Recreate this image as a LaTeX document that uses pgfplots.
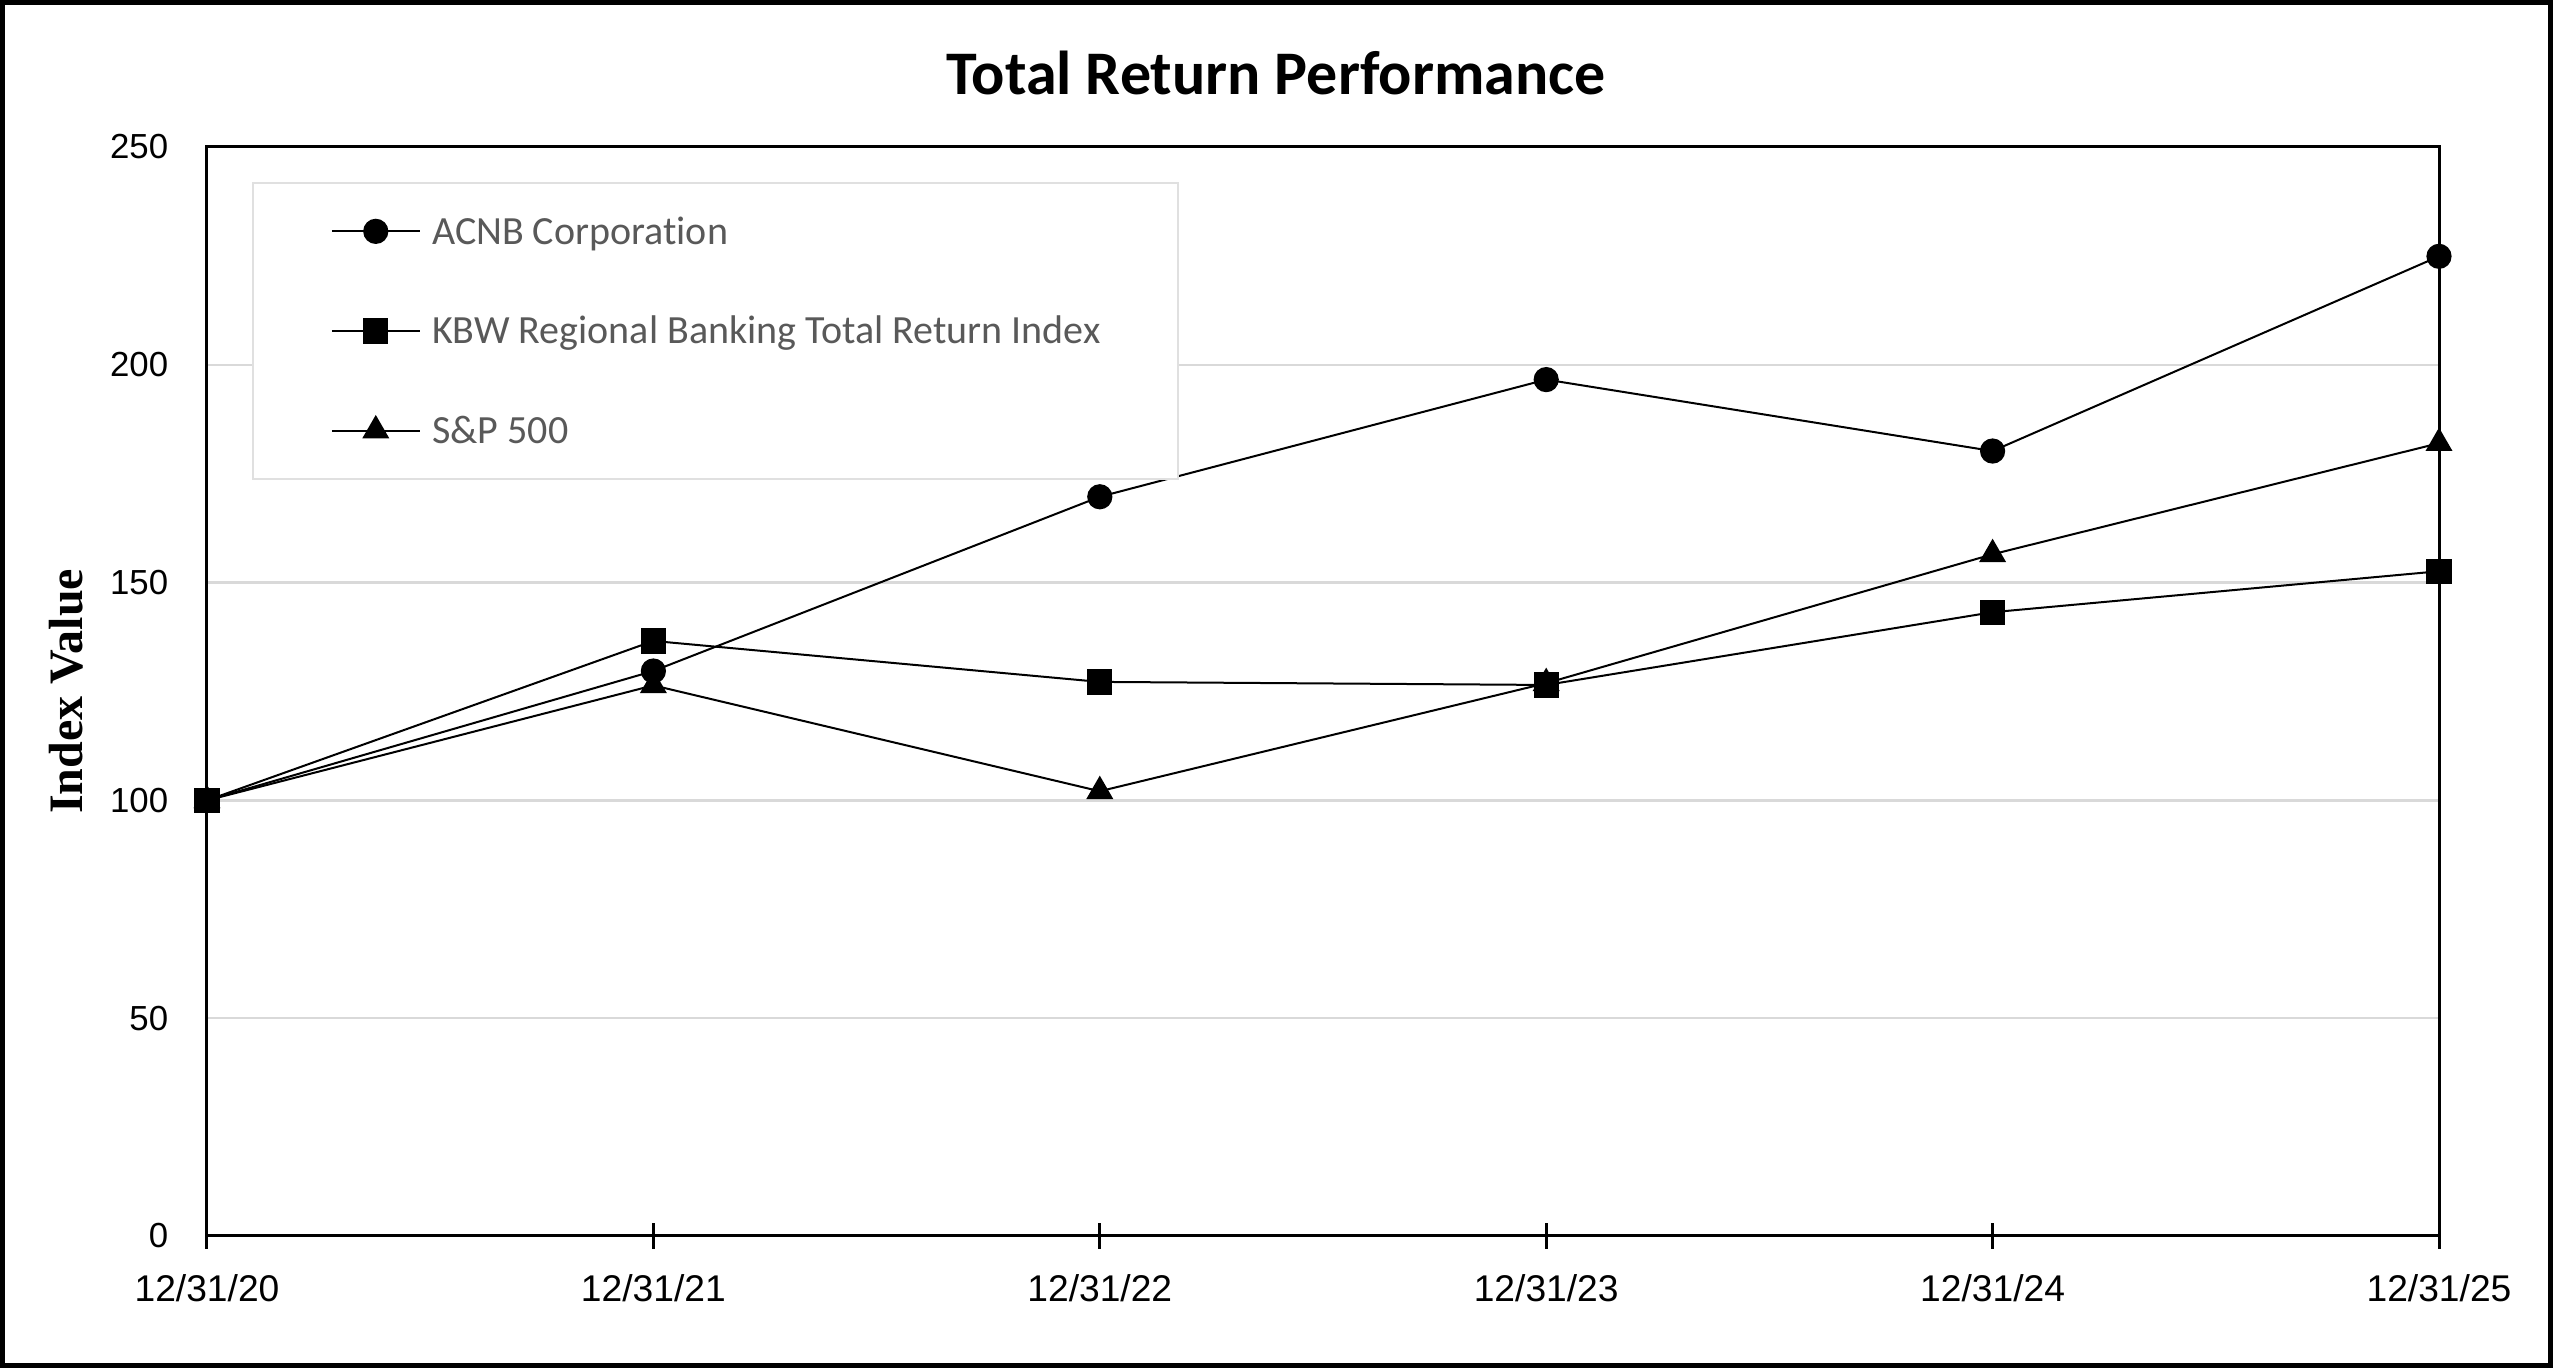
\documentclass[border=0pt]{standalone}
\usepackage{pgfplots}
\pgfplotsset{compat=1.18}
\usepackage{fontspec}
\setmainfont{Liberation Sans}
\newfontfamily\carlito[Ligatures={NoCommon}]{Carlito}
\newfontfamily\timesf{Liberation Serif}
\definecolor{gridgray}{HTML}{D9D9D9}
\definecolor{leggray}{HTML}{595959}
\definecolor{legborder}{HTML}{E0E0E0}
\begin{document}
\begin{tikzpicture}
\begin{axis}[
  scale only axis, width=558pt, height=272.25pt,
  xmin=0, xmax=5, ymin=0, ymax=250,
  clip=false,
  xtick={0,1,2,3,4,5},
  xticklabels={12/31/20,12/31/21,12/31/22,12/31/23,12/31/24,12/31/25},
  ytick={0,50,100,150,200,250},
  ymajorgrids, grid style={gridgray, line width=0.6pt},
  axis line style={line width=0.75pt, black},
  tick pos=left,
  tick align=center, major tick length=6.5pt,
  xtick style={black, line width=0.75pt},
  ytick style={draw=none},
  /pgf/number format/assume math mode=true,
  xticklabel style={font=\fontsize{9.3}{11}\selectfont, inner sep=0pt, yshift=-6.15pt},
  yticklabel style={font=\fontsize{8.7}{10}\selectfont, inner sep=0pt, xshift=-6.25pt},
  ylabel={Index Value},
  ylabel style={font=\timesf\bfseries\fontsize{12}{14}\selectfont, at={(axis description cs:-0.0632,0.5)}, anchor=center},
  legend style={at={(axis description cs:0.02016,0.9679)}, anchor=north west, draw=legborder, line width=0.6pt, fill=white, inner xsep=19.4pt, inner ysep=7.3pt, row sep=15.4pt, font=\carlito\fontsize{10}{12}\selectfont, text=leggray, nodes={inner sep=0pt}, /tikz/every odd column/.append style={column sep=2.85pt}},
  legend cell align=left,
  legend image code/.code={\draw[#1, mark repeat=2, mark phase=2] plot coordinates {(0pt,0pt) (11pt,0pt) (22pt,0pt)};},
]
\addplot[black, line width=0.5pt, mark=*, mark size=2.9pt, mark options={solid, fill=black}] coordinates {
(0,100) (1,129.7) (2,169.7) (3,196.6) (4,180.2) (5,224.9)};
\addlegendentry{\rule[-2pt]{0pt}{10pt}ACNB Corporation}
\addplot[black, line width=0.5pt, mark=square*, mark size=2.9pt, mark options={solid, fill=black}] coordinates {
(0,100) (1,136.6) (2,127.2) (3,126.5) (4,143.2) (5,152.6)};
\addlegendentry{\rule[-2pt]{0pt}{10pt}KBW Regional Banking Total Return Index}
\addplot[black, line width=0.5pt, mark=triangle*, mark size=3.4pt, mark options={solid, fill=black}] coordinates {
(0,100) (1,126.4) (2,102.1) (3,126.9) (4,156.5) (5,182.0)};
\addlegendentry{\rule[-2pt]{0pt}{10pt}S\&P 500}
\end{axis}
\node[font=\carlito\bfseries\fontsize{15.5}{18}\selectfont, anchor=base] at (267.25pt,285.25pt) {Total Return Performance};
\draw[line width=1.3pt] (-51.1pt,-32.35pt) rectangle (585.85pt,308.35pt);
\end{tikzpicture}
\end{document}
